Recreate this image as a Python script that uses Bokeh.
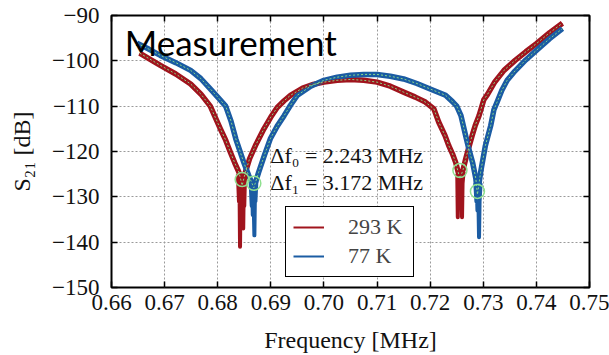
from bokeh.plotting import figure
from bokeh.models import (FixedTicker, LinearAxis, Label, Legend, LegendItem)
from bokeh.embed import file_html
from bokeh.resources import INLINE

# ---------------- data ----------------
x_ticks = [0.66, 0.67, 0.68, 0.69, 0.70, 0.71, 0.72, 0.73, 0.74, 0.75]
x_tick_labels = ["0.66", "0.67", "0.68", "0.69", "0.70", "0.71", "0.72", "0.73", "0.74", "0.75"]
y_ticks = [-150, -140, -130, -120, -110, -100, -90]
y_tick_labels = ["\u2212150", "\u2212140", "\u2212130", "\u2212120", "\u2212110", "\u2212100", "\u221290"]

# 293 K trace
red_f = [0.6653, 0.6672, 0.6692, 0.6721, 0.6749, 0.6768, 0.6786, 0.6805, 0.6815, 0.6824,
         0.6832, 0.6840, 0.6846, 0.6852, 0.6860, 0.6871, 0.6887, 0.6900, 0.6912, 0.6925,
         0.6937, 0.6960, 0.6980, 0.7000, 0.7025, 0.7050, 0.7075, 0.7100, 0.7125, 0.7150,
         0.7172, 0.7191, 0.7207, 0.7216, 0.7228, 0.7235, 0.7242, 0.7248, 0.7256, 0.7262,
         0.7267, 0.7273, 0.7279, 0.7285, 0.7292, 0.7301, 0.7308, 0.7322, 0.7339, 0.7360,
         0.7380, 0.7400, 0.7425, 0.7449]
red_s = [-98.3, -99.6, -101.0, -102.9, -105.1, -107.3, -110.0, -115.0, -117.5, -120.2,
         -122.5, -124.6, -127.5, -124.6, -121.6, -118.7, -115.0, -112.4, -110.3, -108.8,
         -107.6, -106.0, -105.2, -104.7, -104.3, -104.1, -104.3, -104.7, -105.6, -106.9,
         -108.0, -109.1, -110.6, -113.5, -116.5, -118.7, -120.5, -122.4, -126.0, -124.0,
         -121.6, -119.0, -116.5, -114.2, -112.1, -108.6, -107.4, -104.6, -102.1, -99.9,
         -98.0, -96.2, -93.8, -91.7]

# 77 K trace
blue_f = [0.6648, 0.6670, 0.6692, 0.6721, 0.6749, 0.6768, 0.6786, 0.6800, 0.6815, 0.6825,
          0.6834, 0.6849, 0.6858, 0.6868, 0.6877, 0.6888, 0.6899, 0.6912, 0.6925, 0.6937,
          0.6950, 0.6975, 0.7000, 0.7025, 0.7050, 0.7075, 0.7100, 0.7125, 0.7150, 0.7175,
          0.7200, 0.7229, 0.7242, 0.7250, 0.7258, 0.7267, 0.7273, 0.7280, 0.7286, 0.7289,
          0.7295, 0.7304, 0.7314, 0.7320, 0.7326, 0.7335, 0.7345, 0.7360, 0.7380, 0.7400,
          0.7425, 0.7449]
blue_s = [-96.1, -97.4, -98.8, -100.4, -102.1, -103.9, -106.2, -108.0, -110.0, -113.3,
          -117.2, -122.4, -125.2, -128.0, -124.6, -120.8, -117.2, -114.4, -112.1, -109.8,
          -107.6, -105.6, -104.3, -103.6, -103.2, -103.0, -103.0, -103.4, -104.0, -105.0,
          -106.2, -107.6, -109.0, -110.0, -112.1, -116.6, -119.5, -122.5, -126.0, -129.5,
          -124.6, -118.7, -114.3, -110.8, -109.1, -106.5, -104.3, -102.2, -99.8, -97.7,
          -95.1, -92.9]

# noisy dip bottoms
red_dip1_f = [0.6838, 0.6840, 0.6841, 0.6842, 0.6843, 0.6844, 0.6845, 0.6846, 0.6847,
              0.6848, 0.6849, 0.6850, 0.6851, 0.6853]
red_dip1_s = [-125.0, -131.0, -127.0, -141.0, -128.0, -133.5, -129.0, -134.0, -128.0,
              -137.0, -128.0, -132.0, -127.0, -124.5]
blue_dip1_f = [0.6862, 0.6864, 0.6865, 0.6866, 0.6867, 0.6868, 0.6869, 0.6870, 0.6871, 0.6873]
blue_dip1_s = [-127.0, -132.0, -128.0, -134.0, -129.0, -133.0, -138.5, -130.0, -131.0, -126.0]
red_dip2_f = [0.7251, 0.7252, 0.7253, 0.7254, 0.7255, 0.7256, 0.7257, 0.7258, 0.7259,
              0.7260, 0.7261, 0.7263]
red_dip2_s = [-125.0, -134.5, -127.0, -128.6, -126.5, -128.6, -127.0, -128.4, -126.5,
              -134.5, -127.0, -124.5]
blue_dip2_f = [0.7285, 0.7287, 0.7288, 0.7289, 0.7290, 0.7291, 0.7292, 0.7293, 0.7295]
blue_dip2_s = [-127.0, -131.0, -129.0, -133.0, -130.0, -132.0, -138.9, -131.0, -127.0]

# fitted resonance markers
mark_f = [0.6846, 0.6868, 0.7256, 0.7289]
mark_s = [-126.2, -127.0, -124.2, -128.8]

series_names = ["293 K", "77 K"]
title_text = "Measurement"
annot_lines = ["\u0394f\u2080 = 2.243 MHz", "\u0394f\u2081 = 3.172 MHz"]
annot_x = 0.6899
annot_y = [-120.8, -126.9]
title_x, title_y = 0.6625, -95.8

# ---------------- styling ----------------
RED = "#a0141d"
BLUE = "#1b5ca3"
GREEN = "#86d886"
SERIF = "Liberation Serif"

p = figure(width=609, height=355, x_range=(0.66, 0.75), y_range=(-150, -90),
           output_backend="svg", toolbar_location=None,
           min_border_left=111, min_border_right=20, min_border_top=15, min_border_bottom=68)
p.background_fill_color = "white"
p.border_fill_color = "white"
p.outline_line_color = "black"
p.outline_line_width = 2
p.outline_line_alpha = 1

xt = FixedTicker(ticks=x_ticks)
yt = FixedTicker(ticks=y_ticks)

for ax, t, labels in ((p.xaxis[0], xt, x_tick_labels), (p.yaxis[0], yt, y_tick_labels)):
    ax.ticker = t
    ax.major_label_overrides = {float(v): l for v, l in zip(t.ticks, labels)}
    ax.major_tick_in = 6
    ax.major_tick_out = 0
    ax.minor_tick_line_color = None
    ax.major_tick_line_color = "black"
    ax.major_tick_line_width = 1.5
    ax.axis_line_color = None
    ax.major_label_text_font = SERIF
    ax.major_label_text_font_size = "23px"
    ax.major_label_text_color = "#111111"
    ax.axis_label_text_font = SERIF
    ax.axis_label_text_font_size = "24px"
    ax.axis_label_text_font_style = "normal"
    ax.axis_label_text_color = "#111111"

p.xaxis[0].axis_label = "Frequency [MHz]"
p.xaxis[0].major_label_standoff = 7
p.xaxis[0].axis_label_standoff = 14
p.yaxis[0].axis_label = "S\u2082\u2081 [dB]"
p.yaxis[0].major_label_standoff = 12
p.yaxis[0].axis_label_standoff = 14

for side, t in (("above", xt), ("right", yt)):
    a = LinearAxis(ticker=t, major_label_text_font_size="0px", major_label_text_color=None,
                   major_label_text_alpha=0, major_tick_in=6,
                   major_tick_out=0, minor_tick_line_color=None, axis_line_color=None,
                   major_tick_line_width=1.5, major_label_standoff=0)
    p.add_layout(a, side)

p.xgrid.ticker = xt
p.ygrid.ticker = yt
for g in (p.xgrid[0], p.ygrid[0]):
    g.grid_line_color = "#9a9a9a"
    g.grid_line_dash = "2 2"
    g.grid_line_width = 1

# bands (noisy trace look)
p.line(red_f, red_s, line_color=RED, line_width=5.5, line_join="round")
p.line(blue_f, blue_s, line_color=BLUE, line_width=5.5, line_join="round")
for f, s, c in ((red_dip1_f, red_dip1_s, RED), (red_dip2_f, red_dip2_s, RED),
                (blue_dip1_f, blue_dip1_s, BLUE), (blue_dip2_f, blue_dip2_s, BLUE)):
    p.line(f, s, line_color=c, line_width=4, line_join="round")
r_red = p.line(red_f, red_s, line_color=RED, line_width=2)
r_blue = p.line(blue_f, blue_s, line_color=BLUE, line_width=2)

# fit lines
p.line(red_f, red_s, line_color=GREEN, line_width=1, line_dash="2 2")
p.line(blue_f, blue_s, line_color=GREEN, line_width=1, line_dash="2 2")

p.scatter(mark_f, mark_s, marker="circle", size=14, fill_color=None,
          line_color="#8fe08f", line_width=1.5)

p.add_layout(Label(x=title_x, y=title_y, text=title_text, text_font="Lato",
                   text_font_size="35px", text_color="black", text_baseline="alphabetic"))
for txt, yy in zip(annot_lines, annot_y):
    p.add_layout(Label(x=annot_x, y=yy, text=txt, text_font=SERIF, text_font_size="22px",
                       text_color="#111111", text_baseline="alphabetic"))

legend = Legend(items=[LegendItem(label=series_names[0], renderers=[r_red]),
                       LegendItem(label=series_names[1], renderers=[r_blue])],
                location=(174, 10), border_line_color="black", border_line_width=1.5,
                border_line_alpha=1, background_fill_alpha=1, padding=7, spacing=3,
                glyph_width=31, glyph_height=26, label_height=26, label_standoff=24,
                label_width=58, label_text_font=SERIF, label_text_font_size="22px", margin=0)
p.add_layout(legend)

open("out.html", "w").write(file_html(p, INLINE))
